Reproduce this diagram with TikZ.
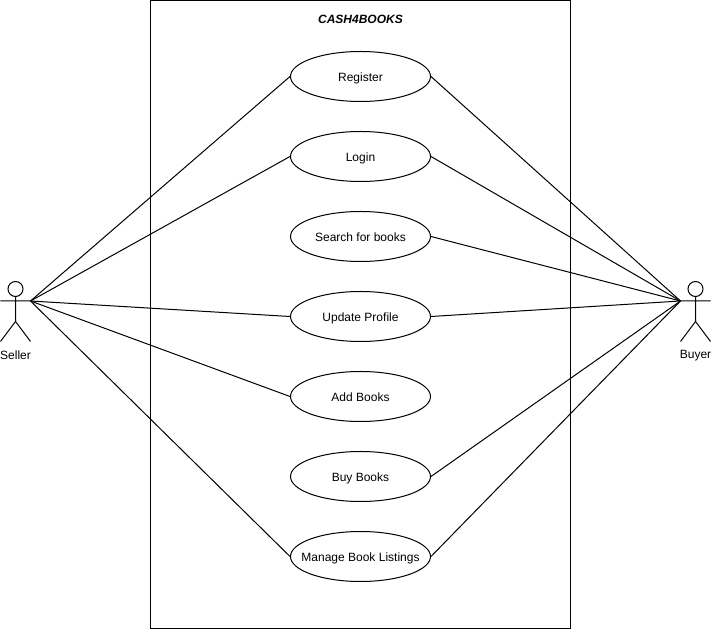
\documentclass[tikz,border=0pt]{standalone}
\usepackage{fontspec}
\setmainfont{Liberation Sans}
\usetikzlibrary{shapes.geometric}
\newcommand{\uctext}[1]{\makebox[0pt]{\raisebox{-3.7pt}[0pt][0pt]{#1}}}
\tikzset{
  x=0.75pt,y=-0.75pt,
  usecase/.style={draw=black,ellipse,fill=white,minimum width=105pt,minimum height=37.5pt,inner sep=0pt,font=\fontsize{9pt}{11pt}\selectfont,line width=0.75pt},
  lbl/.style={font=\fontsize{9pt}{11pt}\selectfont,inner sep=0pt},
  conn/.style={draw=black,line width=0.75pt},
  actor/.style={draw=black,line width=0.75pt}
}
\begin{document}
\begin{tikzpicture}
\useasboundingbox (0,0) rectangle (711,630);
\draw[actor] (150.5,0.5) rectangle (570.5,628.5);
\node[lbl,font=\fontsize{9pt}{11pt}\selectfont\bfseries\itshape] (title) at (360.5,19) {CASH4BOOKS};
\coordinate (s) at (30.5,301);
\coordinate (b) at (680.5,301);
\node[usecase] (u1) at (360.5,76.5) {\uctext{Register}};
\node[usecase] (u2) at (360.5,156.5) {\uctext{Login}};
\node[usecase] (u3) at (360.5,236.5) {\uctext{Search for books}};
\node[usecase] (u4) at (360.5,316.5) {\uctext{Update Profile}};
\node[usecase] (u5) at (360.5,396.5) {\uctext{Add Books}};
\node[usecase] (u6) at (360.5,476.5) {\uctext{Buy Books}};
\node[usecase] (u7) at (360.5,556.5) {\uctext{Manage Book Listings}};
\foreach \u in {u1,u2,u4,u5,u7} \draw[conn] (s) -- (\u.west);
\foreach \u in {u1,u2,u3,u4,u6,u7} \draw[conn] (b) -- (\u.east);
\draw[actor] (15.5,289) circle[radius=7.5];
\draw[actor] (15.5,296.5) -- (15.5,321.5) (0.5,301) -- (30.5,301) (15.5,321.5) -- (0.5,341.5) (15.5,321.5) -- (30.5,341.5);
\draw[actor] (695.5,289) circle[radius=7.5];
\draw[actor] (695.5,296.5) -- (695.5,321.5) (680.5,301) -- (710.5,301) (695.5,321.5) -- (680.5,341.5) (695.5,321.5) -- (710.5,341.5);
\node[lbl] (seller) at (15.5,355.5) {Seller};
\node[lbl] (buyer) at (695.5,355.5) {Buyer};
\end{tikzpicture}
\end{document}
